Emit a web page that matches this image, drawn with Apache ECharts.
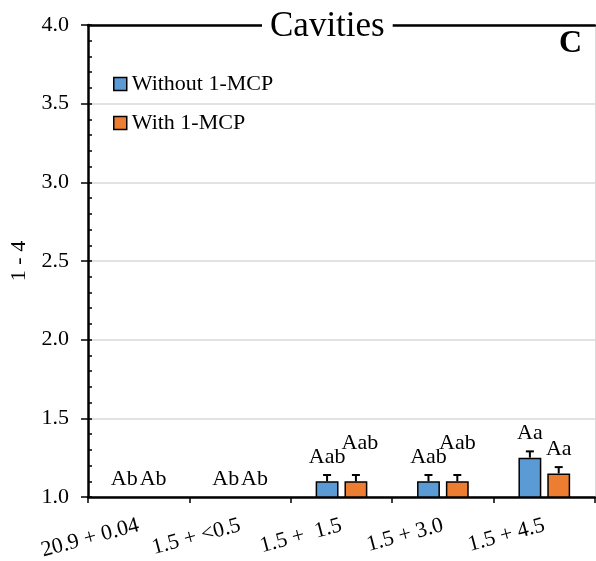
<!DOCTYPE html>
<html>
<head>
<meta charset="utf-8">
<script src="https://cdn.jsdelivr.net/npm/echarts@6/dist/echarts.min.js"></script>
<style>
  html, body { margin: 0; padding: 0; background: #fff; }
  #chart { width: 596px; height: 561px; }
</style>
</head>
<body>
<div id="chart"></div>
<script>
// Storage atmospheres (O2 + CO2, kPa)
const categories = ['20.9 + 0.04', '1.5 + <0.5', '1.5 +  1.5', '1.5 + 3.0', '1.5 + 4.5'];
// Cavities score (scale 1 - 4)
const withoutMcp = [1.0, 1.0, 1.1, 1.1, 1.25];
const withMcp = [1.0, 1.0, 1.1, 1.1, 1.15];
// Standard errors
const withoutMcpErr = [0, 0, 0.04, 0.04, 0.04];
const withMcpErr = [0, 0, 0.04, 0.04, 0.04];
// Significance letters
const withoutMcpSig = ['Ab', 'Ab', 'Aab', 'Aab', 'Aa'];
const withMcpSig = ['Ab', 'Ab', 'Aab', 'Aab', 'Aa'];
const yTicks = [1.0, 1.5, 2.0, 2.5, 3.0, 3.5, 4.0];

// Extra lift (px) for letters that would collide with their neighbour
const withMcpLift = [0, 0, 14, 14, 0];
const withMcpShift = [0, 0, 4, 0, 0];

const FONT = "'Liberation Serif', 'Times New Roman', serif";
const FS = 22;
const BLUE = '#5b9bd5';
const ORANGE = '#ed7d31';
const CAT_GAP = 0.49;
const BAR_GAP = 0.26;

function errorSeries(values, errs, sigs, side, lift, shift) {
  return {
    type: 'custom',
    xAxisIndex: 0,
    yAxisIndex: 0,
    z: 5,
    data: values.map((v, i) => [i, v, errs[i], sigs[i], lift[i], shift[i]]),
    renderItem: function (params, api) {
      const cat = api.value(0);
      const v = api.value(1);
      const e = api.value(2);
      const catW = api.size([1, 0])[0];
      const bw = catW * (1 - CAT_GAP) / (2 + BAR_GAP);
      const base = api.coord([cat, v]);
      const cx = base[0] + side * bw * (1 + BAR_GAP) / 2;
      const yVal = base[1];
      const yTop = api.coord([cat, v + e])[1];
      const cap = 4;
      const ls = { stroke: '#000', lineWidth: 2 };
      const children = [];
      if (e > 0) {
        children.push({ type: 'line', shape: { x1: cx, y1: yVal, x2: cx, y2: yTop }, style: ls });
        children.push({ type: 'line', shape: { x1: cx - cap, y1: yTop, x2: cx + cap, y2: yTop }, style: ls });
      }
      children.push({
        type: 'text',
        style: {
          text: api.value(3),
          x: cx + api.value(5),
          y: yTop - 7 - api.value(4),
          align: 'center',
          verticalAlign: 'bottom',
          font: FS + 'px ' + FONT,
          fill: '#000'
        }
      });
      return { type: 'group', children: children };
    }
  };
}

const chart = echarts.init(document.getElementById('chart'));
chart.setOption({
  animation: false,
  backgroundColor: '#fff',
  textStyle: { fontFamily: FONT, color: '#000' },
  title: [
    {
      text: 'Cavities',
      left: 262,
      top: 7,
      padding: [2, 8],
      backgroundColor: '#fff',
      textStyle: { fontFamily: FONT, fontSize: 35, fontWeight: 'normal', color: '#000' }
    },
    {
      text: 'C',
      right: 14,
      top: 28,
      padding: 0,
      textStyle: { fontFamily: FONT, fontSize: 32, fontWeight: 'bold', color: '#000' }
    }
  ],
  legend: {
    orient: 'vertical',
    left: 108,
    top: 68,
    itemWidth: 13,
    itemHeight: 13,
    itemGap: 17,
    itemStyle: { borderColor: '#000', borderWidth: 1.5 },
    icon: 'rect',
    textStyle: { fontFamily: FONT, fontSize: FS, color: '#000' },
    data: ['Without 1-MCP', 'With 1-MCP']
  },
  grid: { left: 88, right: 1, top: 25, bottom: 64, containLabel: false, outerBoundsMode: 'none' },
  xAxis: [
    {
      type: 'category',
      data: categories,
      axisLine: { lineStyle: { color: '#000', width: 2.5 } },
      axisTick: { show: true, length: 6, lineStyle: { color: '#000', width: 1.5 } },
      axisLabel: { rotate: 15, margin: 28, fontFamily: FONT, fontSize: FS, color: '#000', interval: 0 }
    },
    {
      type: 'category',
      data: categories,
      position: 'top',
      axisLine: { lineStyle: { color: '#000', width: 2.5 } },
      axisTick: { show: false },
      axisLabel: { show: false }
    }
  ],
  yAxis: [
    {
      type: 'value',
      min: 1.0,
      max: 4.0,
      interval: 0.5,
      name: '1 - 4',
      nameLocation: 'middle',
      nameRotate: 90,
      nameGap: 58,
      nameTextStyle: { fontFamily: FONT, fontSize: FS, color: '#000' },
      axisLine: { show: true, lineStyle: { color: '#000', width: 2.5 } },
      axisTick: { show: true, length: 7, lineStyle: { color: '#000', width: 1.5 } },
      axisLabel: {
        margin: 19, fontFamily: FONT, fontSize: FS, color: '#000',
        formatter: v => v.toFixed(1)
      },
      splitLine: { show: true, lineStyle: { color: '#d9d9d9', width: 1.5 } }
    },
    {
      type: 'value',
      min: 1.0,
      max: 4.0,
      interval: 0.1,
      position: 'left',
      offset: 0,
      axisLine: { show: false },
      axisTick: { show: true, inside: true, length: 4, lineStyle: { color: '#000', width: 1.5 } },
      axisLabel: { show: false },
      splitLine: { show: false }
    },
    {
      type: 'value',
      min: 1.0,
      max: 4.0,
      interval: 0.5,
      position: 'right',
      axisLine: { show: true, lineStyle: { color: '#d9d9d9', width: 1 } },
      axisTick: { show: false },
      axisLabel: { show: false },
      splitLine: { show: false }
    }
  ],
  series: [
    {
      name: 'Without 1-MCP',
      type: 'bar',
      data: withoutMcp,
      barGap: (BAR_GAP * 100) + '%',
      barCategoryGap: (CAT_GAP * 100) + '%',
      itemStyle: { color: BLUE, borderColor: '#000', borderWidth: 1.5 }
    },
    {
      name: 'With 1-MCP',
      type: 'bar',
      data: withMcp,
      barGap: (BAR_GAP * 100) + '%',
      barCategoryGap: (CAT_GAP * 100) + '%',
      itemStyle: { color: ORANGE, borderColor: '#000', borderWidth: 1.5 }
    },
    errorSeries(withoutMcp, withoutMcpErr, withoutMcpSig, -1, [0, 0, 0, 0, 0], [0, 0, 0, 0, 0]),
    errorSeries(withMcp, withMcpErr, withMcpSig, 1, withMcpLift, withMcpShift)
  ]
});
</script>
</body>
</html>
